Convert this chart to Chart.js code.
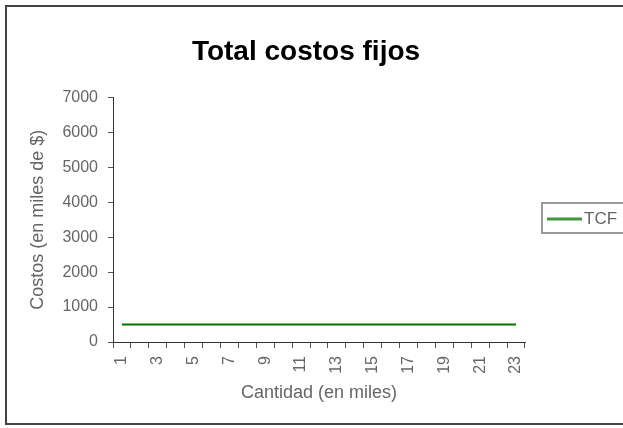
<!DOCTYPE html>
<html>
<head>
<meta charset="utf-8">
<script src="https://cdn.jsdelivr.net/npm/chart.js@4/dist/chart.umd.min.js"></script>
<style>
html,body{margin:0;padding:0;background:#fff;}
#wrap{width:623px;height:428px;}
</style>
</head>
<body>
<div id="wrap"><canvas id="c" width="623" height="428"></canvas></div>
<script>
const categories = ['1','2','3','4','5','6','7','8','9','10','11','12','13','14','15','16','17','18','19','20','21','22','23'];
const tcfValues = [500,500,500,500,500,500,500,500,500,500,500,500,500,500,500,500,500,500,500,500,500,500,500];
const seriesName = 'TCF';
const chartTitle = 'Total costos fijos';
const xTitle = 'Cantidad (en miles)';
const yTitle = 'Costos (en miles de $)';
const yTicks = [0,1000,2000,3000,4000,5000,6000,7000];

const FONT = "'Liberation Sans', Arial, sans-serif";

const framePlugin = {
  id: 'frame',
  afterDraw(chart) {
    const ctx = chart.ctx;
    ctx.save();
    // outer chart border
    ctx.strokeStyle = '#444';
    ctx.lineWidth = 2;
    ctx.strokeRect(6, 6, 640, 418);
    // legend (from dataset label & colour)
    const ds = chart.data.datasets[0];
    ctx.strokeStyle = '#999';
    ctx.lineWidth = 2;
    ctx.strokeRect(542, 203, 84, 30);
    ctx.strokeStyle = ds.borderColor;
    ctx.globalAlpha = 0.75;
    ctx.lineWidth = 3;
    ctx.beginPath();
    ctx.moveTo(547, 219);
    ctx.lineTo(582, 219);
    ctx.stroke();
    ctx.globalAlpha = 1;
    ctx.fillStyle = '#666';
    ctx.font = "17px " + FONT;
    ctx.textBaseline = 'middle';
    ctx.textAlign = 'left';
    ctx.fillText(ds.label, 584, 219);
    ctx.restore();
  }
};

new Chart(document.getElementById('c'), {
  type: 'line',
  data: {
    labels: categories,
    datasets: [{
      label: seriesName,
      data: tcfValues,
      borderColor: '#007400',
      backgroundColor: '#007400',
      borderWidth: 2,
      pointRadius: 0,
      tension: 0,
      fill: false
    }]
  },
  options: {
    responsive: false,
    devicePixelRatio: 1,
    animation: false,
    layout: { padding: { left: 5, right: 16, top: 5, bottom: 5 } },
    plugins: {
      title: {
        display: true,
        text: chartTitle,
        color: '#000',
        font: { family: FONT, size: 28, weight: 'bold' },
        padding: { top: 30, bottom: 29 }
      },
      legend: { display: false },
      tooltip: { enabled: false }
    },
    scales: {
      x: {
        type: 'category',
        offset: true,
        afterFit: function(axis) { axis.height = 81; },
        grid: { offset: true, drawOnChartArea: false, drawTicks: true, tickLength: 6, color: '#555' },
        border: { display: true, color: '#333', width: 1 },
        ticks: {
          autoSkip: false,
          minRotation: 90,
          maxRotation: 90,
          color: '#666',
          font: { family: FONT, size: 16 },
          padding: 8,
          callback: function(v, i) { return i % 2 === 0 ? categories[i] : ''; }
        },
        title: { display: true, text: xTitle, color: '#666', font: { family: FONT, size: 18 }, padding: { top: 4, bottom: 19 } }
      },
      y: {
        min: 0,
        max: 7000,
        afterFit: function(axis) { axis.width = 108; },
        grid: { drawOnChartArea: false, drawTicks: true, tickLength: 5, color: '#555' },
        border: { display: true, color: '#333', width: 1 },
        afterBuildTicks: function(axis) { axis.ticks = yTicks.map(v => ({ value: v })); },
        ticks: { color: '#666', font: { family: FONT, size: 16 }, padding: 10, callback: function(v) { return String(v); } },
        title: { display: true, text: yTitle, color: '#666', font: { family: FONT, size: 18 }, padding: { top: 22, bottom: 4 } }
      },
      legendSpace: {
        type: 'linear',
        position: 'right',
        display: true,
        min: 0,
        max: 7000,
        afterFit: function(axis) { axis.width = 82; },
        grid: { display: false, drawOnChartArea: false, drawTicks: false },
        border: { display: false },
        ticks: { display: false },
        title: { display: false }
      }
    }
  },
  plugins: [framePlugin]
});
</script>
</body>
</html>
